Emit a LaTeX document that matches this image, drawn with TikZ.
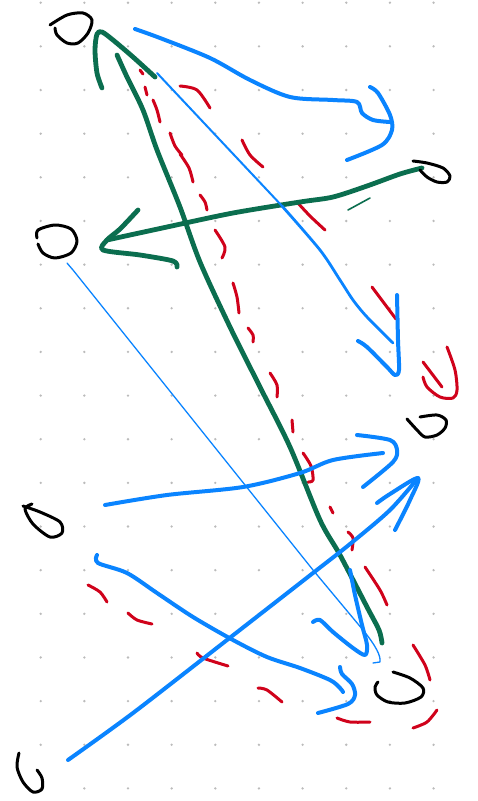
\documentclass[tikz,border=0pt]{standalone}
\definecolor{ink}{HTML}{000000}
\definecolor{pblue}{HTML}{0A84FF}
\definecolor{pgreen}{HTML}{0B6E4F}
\definecolor{pred}{HTML}{D0021B}
\definecolor{pdot}{HTML}{BBBBBB}
\tikzset{
  pen/.style={line cap=round,line join=round},
  blk/.style={pen,draw=ink,line width=3pt},
  blu/.style={pen,draw=pblue,line width=4pt},
  bluthin/.style={pen,draw=pblue,line width=1.3pt},
  bluemid/.style={pen,draw=pblue,line width=2.8pt},
  grn/.style={pen,draw=pgreen,line width=4.8pt},
  grnthin/.style={pen,draw=pgreen,line width=1.6pt},
  rd/.style={pen,draw=pred,line width=3pt},
}
\begin{document}
\begin{tikzpicture}[x=1pt,y=-1pt]
\useasboundingbox (0,0) rectangle (477,801);
\fill[white] (0,0) rectangle (477,801);
% dot grid
\foreach \i in {0,...,9}{\foreach \j in {0,...,18}{
  \fill[pdot] (40.7+43.65*\i,2.7+43.65*\j) circle (1.3);}}
% red dashes
\draw[rd] (140,70) -- (143,74);
\draw[rd] (145,87) -- (147,95);
\draw[rd] plot[smooth] coordinates {(153,100) (157,110) (160,122)};
\draw[rd] plot[smooth] coordinates {(170,133) (175,146) (182,155)};
\draw[rd] plot[smooth] coordinates {(180,154) (189,168) (193,182)};
\draw[rd] plot[smooth] coordinates {(200,195) (205,202) (207,210)};
\draw[rd] plot[smooth] coordinates {(215,230) (225,247) (222,258)};
\draw[rd] plot[smooth] coordinates {(180,86) (197,90) (210,108)};
\draw[rd] plot[smooth] coordinates {(242,140) (250,155) (263,167)};
\draw[rd] plot[smooth] coordinates {(297,202) (310,216) (325,230)};
\draw[rd] plot[smooth] coordinates {(233,283) (237,297) (239,313)};
\draw[rd] plot[smooth] coordinates {(248,328) (253,335) (253,342)};
\draw[rd] plot[smooth] coordinates {(270,373) (277,385) (277,397)};
\draw[rd] (292,420) -- (293,432);
\draw[rd] plot[smooth] coordinates {(303,453) (311,466) (313,480) (308,482)};
\draw[rd] (330,507) -- (333,513);
\draw[rd] (372,287) -- (396,319);
\draw[rd] plot[smooth] coordinates {(447,347) (455,370) (457,390) (453,398) (440,397) (427,387) (423,377)};
\draw[rd] (423,362) -- (442,387);
\draw[rd] plot[smooth] coordinates {(348,532) (353,538) (352,550)};
\draw[rd] plot[smooth] coordinates {(365,567) (380,590) (387,605)};
\draw[rd] plot[smooth] coordinates {(413,645) (425,665) (430,680)};
\draw[rd] plot[smooth] coordinates {(437,710) (427,722) (413,728)};
\draw[rd] plot[smooth] coordinates {(337,718) (350,722) (370,722)};
\draw[rd] plot[smooth] coordinates {(258,688) (267,690) (282,702)};
\draw[rd] plot[smooth] coordinates {(197,653) (203,658) (228,666)};
\draw[rd] plot[smooth] coordinates {(128,613) (137,620) (152,624)};
\draw[rd] plot[smooth] coordinates {(88,585) (100,592) (107,602)};
% green strokes
\draw[grn] plot[smooth] coordinates {(102,88) (97,73) (95,50) (97,34) (102,32) (113,40) (133,57) (155,77)};
\draw[grn] plot[smooth] coordinates {(117,55) (127,77) (143,110) (157,150) (180,207) (200,262) (230,327) (260,387) (290,447) (320,520) (340,555) (367,607) (379,630) (382,643)};
\draw[grn] plot[smooth] coordinates {(422,168) (400,174) (367,186) (333,197) (300,202) (233,213) (167,227) (107,240)};
\draw[grn] plot[smooth] coordinates {(138,210) (120,229) (107,240) (103,250) (140,255) (173,261) (177,267)};
\draw[grnthin] (348,210) -- (370,198);
% blue strokes
\draw[blu] plot[smooth] coordinates {(135,29) (160,38) (210,58) (250,80) (290,97) (333,100) (357,102) (362,113) (373,120) (390,122)};
\draw[blu] plot[smooth] coordinates {(370,87) (378,93) (390,115) (392,130) (382,145) (347,160)};
\draw[bluthin,line width=2pt] (157,73) -- (283,207);
\draw[bluemid] plot[smooth] coordinates {(282,206) (320,250) (340,280) (353,300) (367,317) (393,343)};
\draw[blu] plot[smooth] coordinates {(397,295) (398,340) (399,370) (395,375) (387,367) (367,347) (358,341)};
\draw[bluthin] (67,263) -- (73,270) -- (245,485) -- (313,570) -- (363,630) .. controls (376,646) and (381,656) .. (380,662) -- (373,663);
\draw[blu] plot[smooth] coordinates {(105,505) (167,495) (243,487) (300,473) (333,460) (383,453)};
\draw[blu] plot[smooth] coordinates {(357,435) (390,440) (397,450) (393,462) (363,487)};
\draw[blu] plot[smooth] coordinates {(68,760) (133,713) (227,640) (313,573) (350,544) (390,510) (418,478)};
\draw[blu] plot[smooth] coordinates {(377,503) (390,494) (418,478) (410,500) (395,530)};
\draw[blu] plot[smooth] coordinates {(97,555) (98,563) (127,573) (157,593) (193,617) (233,640) (267,657) (300,668) (330,680) (340,688) (343,692)};
\draw[blu] plot[smooth] coordinates {(340,667) (342,674) (352,684) (355,695) (348,704) (318,713)};
\draw[blu] plot[smooth] coordinates {(350,570) (355,595) (362,625) (367,645) (365,655) (353,648) (333,632) (320,620) (313,622)};
% black marks
\draw[blk] plot[smooth] coordinates {(50,25) (67,15) (83,13) (92,20) (88,33) (78,43) (67,43) (57,35) (55,28)};
\draw[blk] plot[smooth] coordinates {(413,161) (427,163) (443,168) (450,176) (447,182) (437,182) (427,177) (420,170)};
\draw[blk] plot[smooth] coordinates {(37,238) (38,230) (55,225) (71,229) (77,241) (71,253) (55,258) (43,253) (38,244)};
\draw[blk] plot[smooth] coordinates {(407,419) (417,430) (425,437) (437,435) (445,428) (446,420) (437,415) (420,417)};
\draw[blk] plot[smooth] coordinates {(32,504) (25,509) (33,524) (50,537) (62,533) (60,522) (40,512) (23,506)};
\draw[blk] plot[smooth] coordinates {(19,753) (17,767) (23,782) (33,792) (42,789) (42,778) (37,770)};
\draw[blk] plot[smooth] coordinates {(393,672) (410,678) (423,688) (421,697) (405,703) (388,702) (377,695) (375,687) (378,682)};
\end{tikzpicture}
\end{document}
